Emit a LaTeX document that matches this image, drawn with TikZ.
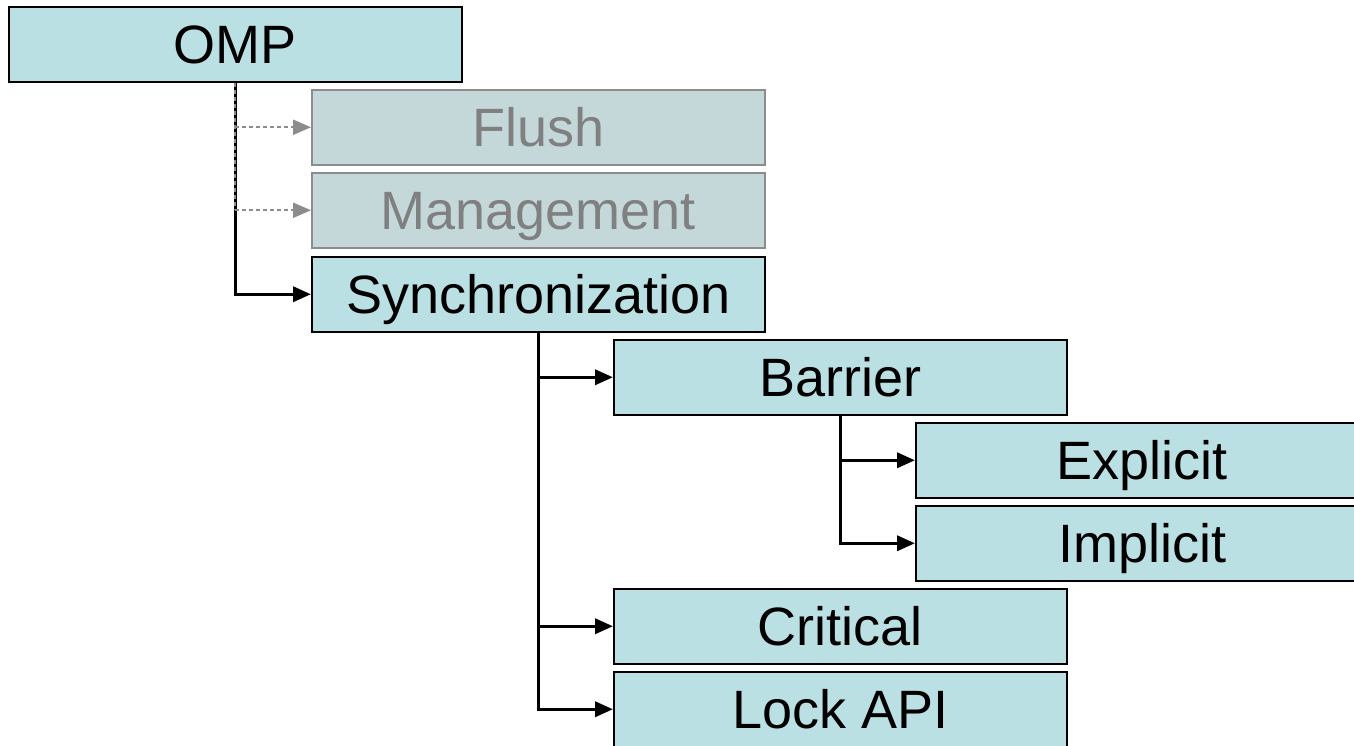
\documentclass[tikz,border=0pt]{standalone}
\usepackage{fontspec}
\setmainfont{Liberation Sans}
\usetikzlibrary{arrows.meta}
\definecolor{boxfill}{HTML}{BBE0E3}
\definecolor{grayfill}{HTML}{C4D8DA}
\definecolor{grayline}{HTML}{8C8C8C}
\definecolor{graytext}{HTML}{808080}
\begin{document}
\begin{tikzpicture}[x=1pt,y=-1pt,
  box/.style={draw=black, line width=1.5pt, fill=boxfill, minimum width=453pt, minimum height=75pt, inner sep=0pt, text height=38pt, text depth=0pt, anchor=north west, font=\fontsize{54}{60}\selectfont},
  graybox/.style={box, draw=grayline, fill=grayfill, text=graytext},
  link/.style={line width=3.5pt, -{Triangle[length=18pt,width=15pt]}},
  dotlink/.style={draw=grayline, line width=2.2pt, dash pattern=on 4pt off 3pt, -{Triangle[length=18pt,width=15pt,fill=grayline]}}]
\useasboundingbox (0,0) rectangle (1354,745);
\clip (0,0) rectangle (1354,745);
\fill[white] (0,0) rectangle (1354,745);
\node[box] (omp) at (8,6) {OMP};
\node[graybox] (flush) at (311,89) {Flush};
\node[graybox] (mgmt) at (311,172) {Management};
\node[box] (sync) at (311,256) {Synchronization};
\node[box] (barrier) at (613,339) {Barrier};
\node[box] (explicit) at (915,422) {Explicit};
\node[box] (implicit) at (915,505) {Implicit};
\node[box] (critical) at (613,588) {Critical};
\node[box] (lock) at (613,671) {Lock API};
% OMP connectors
\coordinate (oj) at (omp.south);
\draw[line width=3.5pt] (oj) -- (oj |- sync.west) coordinate (ocorner);
\draw[link] ([xshift=-1.75pt]ocorner) -- (sync.west);
\draw[draw=grayline, line width=2.2pt, dash pattern=on 4pt off 3pt] (oj) -- (oj |- mgmt.west);
\draw[dotlink] (oj |- flush.west) -- (flush.west);
\draw[dotlink] (oj |- mgmt.west) -- (mgmt.west);
% Synchronization connectors
\coordinate (sj) at (sync.south);
\draw[line width=3.5pt] (sj) -- (sj |- lock.west);
\draw[link] (sj |- barrier.west) -- (barrier.west);
\draw[link] (sj |- critical.west) -- (critical.west);
\draw[link] ([xshift=-1.75pt]sj |- lock.west) -- (lock.west);
% Barrier connectors
\coordinate (bj) at (barrier.south);
\draw[line width=3.5pt] (bj) -- (bj |- implicit.west);
\draw[link] (bj |- explicit.west) -- (explicit.west);
\draw[link] ([xshift=-1.75pt]bj |- implicit.west) -- (implicit.west);
\end{tikzpicture}
\end{document}
